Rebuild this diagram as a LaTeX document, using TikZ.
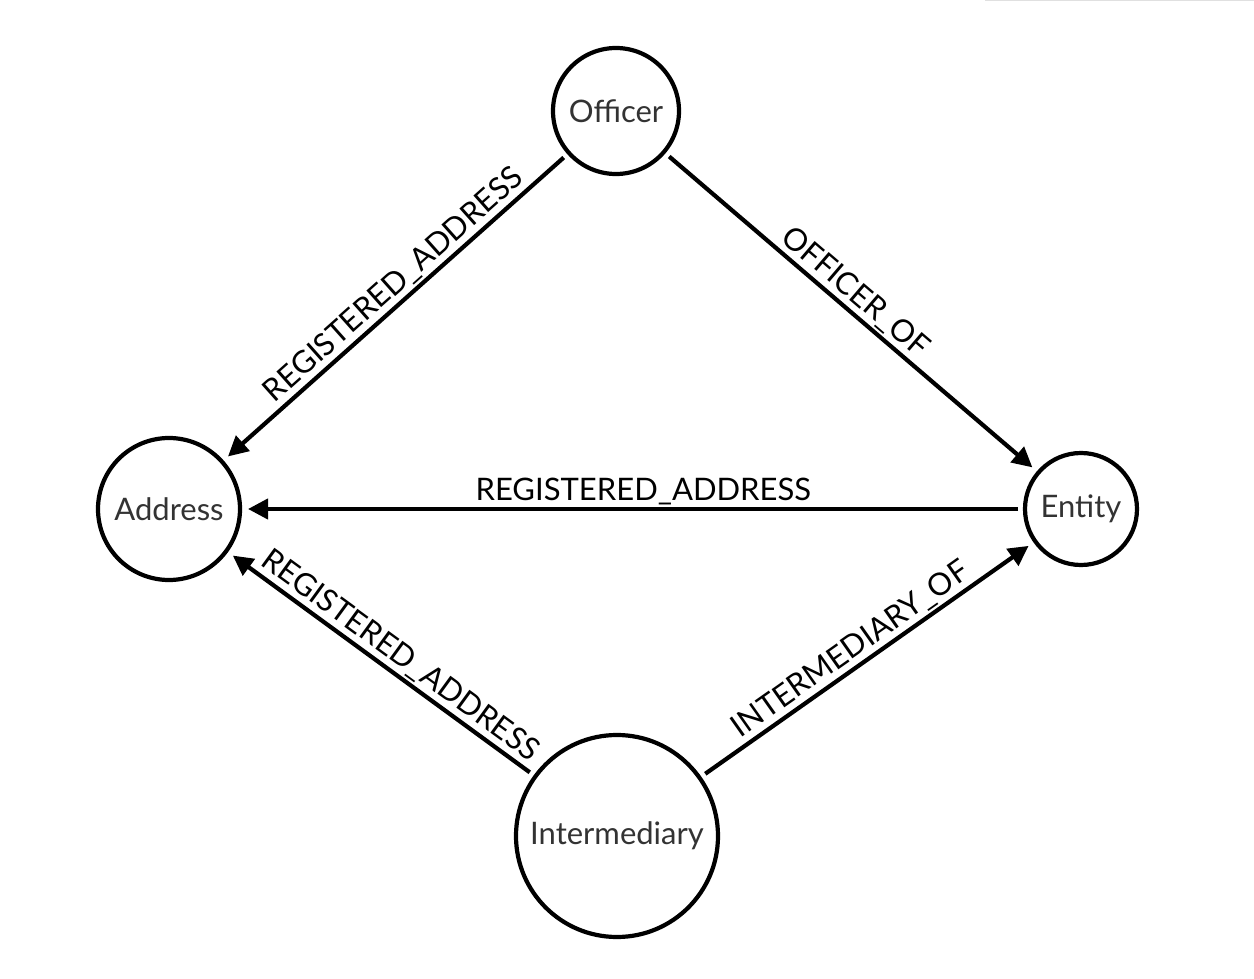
\documentclass[tikz,border=0pt]{standalone}
\usepackage{fontspec}
\setmainfont{Lato}
\usetikzlibrary{arrows.meta}
\definecolor{nodetext}{HTML}{333333}
\begin{document}
\begin{tikzpicture}[x=1pt,y=-1pt,
  entity/.style={circle,draw=black,line width=4.2pt,fill=white,text=nodetext,
    font=\fontsize{31}{34}\selectfont,inner sep=0pt,outer sep=7pt},
  rel/.style={line width=4.2pt,-{Triangle[length=20pt,width=20pt]},shorten >=1pt},
  lbl/.style={sloped,above,text=black,font=\fontsize{31}{34}\selectfont,inner sep=2pt}]
\useasboundingbox (0,0) rectangle (1254,979);
\draw[line width=1pt,black!12] (985,1) -- (1254,1);
\node[entity,minimum size=126pt] (off) at (616,111) {Officer};
\node[entity,minimum size=142pt] (adr) at (169,509) {Address};
\node[entity,minimum size=112pt] (ent) at (1081,509) {Entity};
\node[entity,minimum size=202pt] (int) at (617,836) {Intermediary};
\draw[rel] (off) -- node[lbl,pos=0.47] {REGISTERED\_ADDRESS} (adr);
\draw[rel] (off) -- node[lbl,pos=0.48] {OFFICER\_OF} (ent);
\draw[rel] (ent) -- node[lbl,pos=0.486] {REGISTERED\_ADDRESS} (adr);
\draw[rel] (int) -- node[lbl,pos=0.47] {REGISTERED\_ADDRESS} (adr);
\draw[rel] (int) -- node[lbl,pos=0.48] {INTERMEDIARY\_OF} (ent);
\end{tikzpicture}
\end{document}
